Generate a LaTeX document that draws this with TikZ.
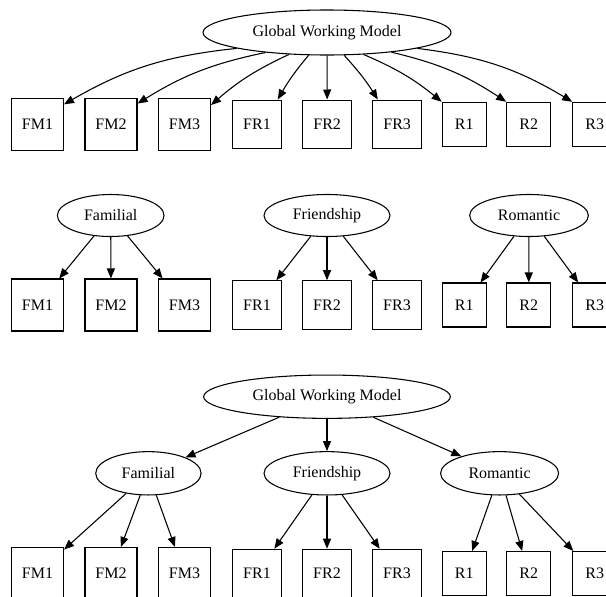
\documentclass[tikz,border=0pt]{standalone}
\usepackage{fontspec}
\setmainfont{Liberation Serif}
\usetikzlibrary{arrows.meta,shapes.geometric}

\begin{document}
\begin{tikzpicture}[x=0.75pt,y=-0.75pt,
		every node/.style={font=\fontsize{12}{14}\selectfont},
		latent/.style={draw,ellipse,inner sep=0pt,line width=0.8pt,minimum height=31.5pt,minimum width=#1},
		item/.style={draw,rectangle,inner sep=0pt,line width=0.8pt,minimum size=#1},
		link/.style={-{Triangle[length=7.5pt,width=6pt]},line width=0.8pt}]
		\useasboundingbox (0,0) rectangle (606,596);
		
		% one global model over all nine items
		\begin{scope}
			\node[latent=186pt,minimum height=33.75pt] (topGwm) at (327,32.5) {Global Working Model};
			\node[item=39pt] (topFm1) at (37.5,124.3) {FM1};
			\node[item=39pt] (topFm2) at (111,124.3) {FM2};
			\node[item=39pt] (topFm3) at (184.5,124.3) {FM3};
			\node[item=36.4pt] (topFr1) at (257,124.3) {FR1};
			\node[item=36.4pt] (topFr2) at (327.2,124.3) {FR2};
			\node[item=36.4pt] (topFr3) at (397.2,124.3) {FR3};
			\node[item=33pt] (topR1) at (464.2,124.3) {R1};
			\node[item=33pt] (topR2) at (528.7,124.3) {R2};
			\node[item=33pt] (topR3) at (594.7,124.3) {R3};
			\draw[link] (topGwm.190) to[bend right=12] (topFm1.37);
			\draw[link] (topGwm.198) to[bend right=10] (topFm2.38);
			\draw[link] (topGwm.210) to[bend right=8] (topFm3.36);
			\draw[link] (topGwm.231) to[bend right=5] (topFr1.50);
			\draw[link] (topGwm) -- (topFr2);
			\draw[link] (topGwm.307) to[bend left=5] (topFr3.128);
			\draw[link] (topGwm.329) to[bend left=8] (topR1.north west);
			\draw[link] (topGwm.343) to[bend left=10] (topR2.north west);
			\draw[link] (topGwm.350) to[bend left=12] (topR3.north west);
		\end{scope}
		
		% three separate models
		\begin{scope}
			\node[latent=80pt] (midFam) at (110.7,215.5) {Familial};
			\node[latent=94.5pt] (midFri) at (327,215.5) {Friendship};
			\node[latent=89pt] (midRom) at (529,215.5) {Romantic};
			\node[item=39pt] (midFm1) at (37.5,305) {FM1};
			\node[item=39pt] (midFm2) at (111,305) {FM2};
			\node[item=39pt] (midFm3) at (184.5,305) {FM3};
			\node[item=36.4pt] (midFr1) at (257,305) {FR1};
			\node[item=36.4pt] (midFr2) at (327,305) {FR2};
			\node[item=36.4pt] (midFr3) at (397,305) {FR3};
			\node[item=33pt] (midR1) at (464.2,305) {R1};
			\node[item=33pt] (midR2) at (528.7,305) {R2};
			\node[item=33pt] (midR3) at (594.7,305) {R3};
			\draw[link] (midFam) -- (midFm1);
			\draw[link] (midFam) -- (midFm2);
			\draw[link] (midFam) -- (midFm3);
			\draw[link] (midFri) -- (midFr1);
			\draw[link] (midFri) -- (midFr2);
			\draw[link] (midFri) -- (midFr3);
			\draw[link] (midRom) -- (midR1);
			\draw[link] (midRom) -- (midR2);
			\draw[link] (midRom) -- (midR3);
		\end{scope}
		
		% hierarchical model
		\begin{scope}
			\node[latent=185pt,minimum height=32.5pt] (botGwm) at (327,396.7) {Global Working Model};
			\node[latent=79pt,minimum height=32.5pt] (botFam) at (148.4,473.3) {Familial};
			\node[latent=94.5pt,minimum height=32.5pt] (botFri) at (327,473.3) {Friendship};
			\node[latent=88.5pt,minimum height=32.5pt] (botRom) at (499.6,473.3) {Romantic};
			\node[item=39pt] (botFm1) at (37.5,573.5) {FM1};
			\node[item=39pt] (botFm2) at (111,573.5) {FM2};
			\node[item=39pt] (botFm3) at (184.5,573.5) {FM3};
			\node[item=36.4pt] (botFr1) at (257,573.5) {FR1};
			\node[item=36.4pt] (botFr2) at (327,573.5) {FR2};
			\node[item=36.4pt] (botFr3) at (397,573.5) {FR3};
			\node[item=33pt] (botR1) at (464.2,573.5) {R1};
			\node[item=33pt] (botR2) at (528.7,573.5) {R2};
			\node[item=33pt] (botR3) at (594.7,573.5) {R3};
			\draw[link] (botGwm) -- (botFam);
			\draw[link] (botGwm) -- (botFri);
			\draw[link] (botGwm) -- (botRom);
			\draw[link] (botFam) -- (botFm1);
			\draw[link] (botFam) -- (botFm2);
			\draw[link] (botFam) -- (botFm3);
			\draw[link] (botFri) -- (botFr1);
			\draw[link] (botFri) -- (botFr2);
			\draw[link] (botFri) -- (botFr3);
			\draw[link] (botRom) -- (botR1);
			\draw[link] (botRom) -- (botR2);
			\draw[link] (botRom) -- (botR3);
		\end{scope}
	\end{tikzpicture}
\end{document}
